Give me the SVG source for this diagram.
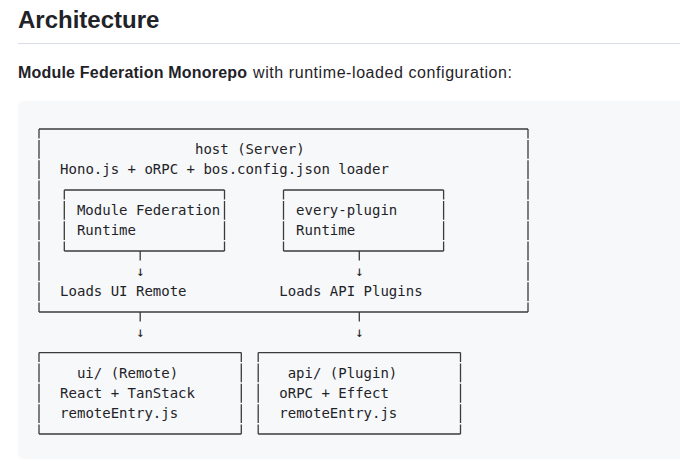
<svg xmlns="http://www.w3.org/2000/svg" width="680" height="471" viewBox="0 0 680 471">
<style>
.h2{font-family:"Liberation Sans",Arial,sans-serif;font-size:24px;font-weight:700;fill:#1f2328}
.p{font-family:"Liberation Sans",Arial,sans-serif;font-size:16px;fill:#1f2328}
.b{font-weight:700}
.m{font-family:"DejaVu Sans Mono","Liberation Mono",monospace;font-size:14px;fill:#1f2328;white-space:pre}
.a{font-family:"DejaVu Sans Mono","Liberation Mono",monospace;font-size:14px;fill:#1f2328;text-anchor:middle}
.hl{stroke:#3b3b3b;stroke-width:1.3;fill:none}
.vl{stroke:#3b3b3b;stroke-width:1.3;fill:none;stroke-dasharray:18.83 1.5;stroke-dashoffset:9.41}
</style>
<rect x="0" y="0" width="680" height="471" fill="#ffffff"/>
<text class="h2" x="18" y="28">Architecture</text>
<rect x="18" y="43" width="662" height="1" fill="#d8dee4"/>
<text class="p b" x="18" y="78" textLength="229" lengthAdjust="spacing">Module Federation Monorepo</text>
<text class="p" x="253" y="78" textLength="259" lengthAdjust="spacing">with runtime-loaded configuration:</text>
<rect x="18" y="101" width="672" height="358" rx="6" fill="#f6f8fa"/>

<g id="host">
  <line class="hl" x1="39" y1="129" x2="528" y2="129"/>
  <line class="hl" x1="39" y1="312" x2="528" y2="312"/>
  <line class="vl" x1="39" y1="129" x2="39" y2="312"/>
  <line class="vl" x1="528" y1="129" x2="528" y2="312"/>
  <text class="m" x="195" y="153.8">host (Server)</text>
  <text class="m" x="60.1" y="174.2">Hono.js + oRPC + bos.config.json loader</text>
  <text class="m" x="60.1" y="296.1">Loads UI Remote</text>
  <text class="m" x="279.3" y="296.1">Loads API Plugins</text>
</g>

<g id="mf-runtime">
  <line class="hl" x1="64.3" y1="190" x2="224.5" y2="190"/>
  <line class="hl" x1="64.3" y1="251" x2="224.5" y2="251"/>
  <line class="vl" x1="64.3" y1="190" x2="64.3" y2="251"/>
  <line class="vl" x1="224.5" y1="190" x2="224.5" y2="251"/>
  <text class="m" x="76.95" y="214.8">Module Federation</text>
  <text class="m" x="76.95" y="235.2">Runtime</text>
</g>

<g id="every-plugin">
  <line class="hl" x1="283.5" y1="190" x2="443.6" y2="190"/>
  <line class="hl" x1="283.5" y1="251" x2="443.6" y2="251"/>
  <line class="vl" x1="283.5" y1="190" x2="283.5" y2="251"/>
  <line class="vl" x1="443.6" y1="190" x2="443.6" y2="251"/>
  <text class="m" x="296.1" y="214.8">every-plugin</text>
  <text class="m" x="296.1" y="235.2">Runtime</text>
</g>

<g id="ui-remote">
  <line class="hl" x1="39" y1="352.6" x2="241.3" y2="352.6"/>
  <line class="hl" x1="39" y1="434" x2="241.3" y2="434"/>
  <line class="vl" x1="39" y1="352.6" x2="39" y2="434"/>
  <line class="vl" x1="241.3" y1="352.6" x2="241.3" y2="434"/>
  <text class="m" x="76.95" y="377.5">ui/ (Remote)</text>
  <text class="m" x="60.1" y="397.8">React + TanStack</text>
  <text class="m" x="60.1" y="418.1">remoteEntry.js</text>
</g>

<g id="api-plugin">
  <line class="hl" x1="258.2" y1="352.6" x2="460.5" y2="352.6"/>
  <line class="hl" x1="258.2" y1="434" x2="460.5" y2="434"/>
  <line class="vl" x1="258.2" y1="352.6" x2="258.2" y2="434"/>
  <line class="vl" x1="460.5" y1="352.6" x2="460.5" y2="434"/>
  <text class="m" x="287.7" y="377.5">api/ (Plugin)</text>
  <text class="m" x="279.3" y="397.8">oRPC + Effect</text>
  <text class="m" x="279.3" y="418.1">remoteEntry.js</text>
</g>

<g id="connectors">
  <line class="hl" x1="140.2" y1="251" x2="140.2" y2="260.4"/>
  <line class="hl" x1="359.3" y1="251" x2="359.3" y2="260.4"/>
  <text class="a" x="140.2" y="276">↓</text>
  <text class="a" x="359.3" y="276">↓</text>
  <line class="hl" x1="140.2" y1="312" x2="140.2" y2="321.4"/>
  <line class="hl" x1="359.3" y1="312" x2="359.3" y2="321.4"/>
  <text class="a" x="140.2" y="337">↓</text>
  <text class="a" x="359.3" y="337">↓</text>
</g>
</svg>
